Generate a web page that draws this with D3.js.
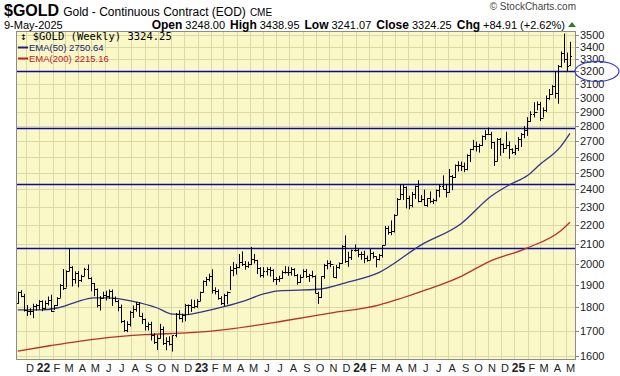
<!DOCTYPE html>
<html>
<head>
<meta charset="utf-8">
<script src="https://cdn.jsdelivr.net/npm/d3@7"></script>
<style>
  body { margin: 0; background: #fff; }
  svg { display: block; }
</style>
</head>
<body>
<svg id="chart"></svg>
<script>
// weekly bars, Friday closes, 12-Nov-2021 .. 9-May-2025
const firstWeek = "2021-11-12";
const lastWeek = "2025-05-09";

const opens = [
  // 2021
  1818, 1868, 1850, 1788, 1784, 1784, 1805, 1811,
  // 2022
  1829, 1797, 1818, 1833, 1786, 1808, 1842, 1900, 1889, 1966, 1985, 1929, 1958,
  1923, 1945, 1974, 1934, 1911, 1882, 1808, 1842, 1857, 1850, 1871, 1840, 1830,
  1801, 1742, 1703, 1727, 1781, 1791, 1816, 1762, 1749, 1721, 1728, 1683, 1655,
  1672, 1709, 1648, 1657, 1645, 1681, 1771, 1754, 1768, 1809, 1810, 1800, 1804,
  // 2023
  1826, 1869, 1921, 1928, 1945, 1876, 1874, 1842, 1817, 1856, 1868, 1973, 1983,
  1986, 2011, 2001, 1990, 1999, 2025, 2019, 1981, 1946, 1969, 1977, 1971, 1929,
  1929, 1932, 1964, 1962, 1960, 1976, 1946, 1916, 1940, 1966, 1942, 1946, 1945,
  1866, 1845, 1941, 1994, 2006, 1999, 1938, 1984, 2003, 2089, 2014, 2035, 2069,
  // 2024
  2071, 2052, 2051, 2029, 2018, 2053, 2038, 2024, 2046, 2096, 2186, 2161, 2166,
  2254, 2345, 2374, 2413, 2347, 2310, 2375, 2419, 2335, 2345, 2311, 2349, 2332,
  2339, 2397, 2421, 2400, 2385, 2480, 2471, 2547, 2546, 2538, 2524, 2611, 2646,
  2668, 2667, 2676, 2736, 2749, 2749, 2694, 2571, 2716, 2681, 2657, 2676, 2645,
  // 2025
  2632, 2654, 2715, 2748, 2775, 2835, 2886, 2900, 2953, 2858, 2915, 3001, 3026,
  3086, 3038, 3244, 3346, 3298, 3248
];

const highs = [
  // 2021
  1870, 1877, 1860, 1810, 1796, 1816, 1815, 1832,
  // 2022
  1831, 1830, 1848, 1856, 1810, 1845, 1905, 1976, 1970, 2078, 1990, 1965, 1966,
  1949, 1982, 1998, 1937, 1910, 1885, 1850, 1870, 1874, 1880, 1880, 1848, 1833,
  1812, 1745, 1740, 1785, 1808, 1824, 1823, 1776, 1751, 1735, 1738, 1690, 1682,
  1729, 1718, 1673, 1677, 1681, 1775, 1787, 1772, 1815, 1813, 1835, 1833, 1836,
  // 2023
  1870, 1922, 1939, 1954, 1975, 1890, 1880, 1849, 1860, 1871, 1990, 2010, 2001,
  2050, 2063, 2015, 2012, 2085, 2050, 2021, 1985, 1985, 1985, 1986, 1975, 1938,
  1944, 1969, 1990, 1988, 1985, 1980, 1952, 1949, 1975, 1976, 1953, 1968, 1946,
  1870, 1941, 2001, 2019, 2017, 1990, 1996, 2008, 2095, 2145, 2061, 2072, 2098,
  // 2024
  2079, 2062, 2067, 2042, 2075, 2061, 2038, 2050, 2096, 2195, 2194, 2225, 2258,
  2350, 2431, 2431, 2417, 2363, 2385, 2422, 2454, 2367, 2398, 2349, 2388, 2346,
  2399, 2430, 2483, 2430, 2522, 2485, 2550, 2570, 2568, 2562, 2614, 2650, 2708,
  2696, 2682, 2737, 2772, 2790, 2761, 2695, 2720, 2720, 2684, 2762, 2698, 2652,
  // 2025
  2675, 2726, 2754, 2800, 2862, 2903, 2968, 2974, 2970, 2930, 3017, 3065, 3094,
  3201, 3250, 3360, 3509, 3350, 3438.95
];

const lows = [
  // 2021
  1815, 1845, 1782, 1762, 1766, 1753, 1785, 1790,
  // 2022
  1783, 1790, 1808, 1780, 1788, 1805, 1842, 1878, 1889, 1965, 1894, 1907, 1890,
  1915, 1941, 1928, 1872, 1850, 1799, 1786, 1839, 1830, 1837, 1806, 1822, 1783,
  1732, 1696, 1694, 1718, 1754, 1781, 1760, 1728, 1701, 1701, 1660, 1646, 1622,
  1668, 1642, 1621, 1640, 1616, 1673, 1748, 1735, 1740, 1769, 1780, 1795, 1798,
  // 2023
  1827, 1865, 1896, 1917, 1862, 1858, 1834, 1810, 1806, 1813, 1877, 1942, 1950,
  1980, 1991, 1973, 1982, 1995, 2003, 1952, 1936, 1935, 1945, 1940, 1914, 1901,
  1915, 1930, 1954, 1944, 1945, 1941, 1902, 1910, 1937, 1933, 1915, 1935, 1862,
  1815, 1841, 1930, 1975, 1985, 1936, 1931, 1977, 2001, 2006, 1987, 2020, 2062,
  // 2024
  2034, 2021, 2004, 2012, 2021, 2027, 1984, 2018, 2032, 2096, 2149, 2146, 2160,
  2254, 2340, 2339, 2291, 2286, 2297, 2344, 2325, 2326, 2305, 2300, 2320, 2316,
  2330, 2354, 2399, 2353, 2380, 2395, 2467, 2507, 2510, 2503, 2514, 2565, 2640,
  2632, 2625, 2667, 2708, 2741, 2649, 2541, 2570, 2605, 2622, 2650, 2585, 2616,
  // 2025
  2610, 2635, 2661, 2718, 2734, 2830, 2860, 2910, 2835, 2860, 2897, 2986, 3022,
  2996, 2957, 3230, 3268, 3203, 3241.07
];

const closes = [
  // 2021
  1868, 1852, 1788, 1784, 1784, 1805, 1811, 1829,
  // 2022
  1797, 1818, 1833, 1786, 1808, 1842, 1900, 1889, 1966, 1985, 1929, 1958, 1923,
  1945, 1974, 1934, 1911, 1882, 1808, 1842, 1857, 1850, 1871, 1840, 1830, 1801,
  1742, 1703, 1727, 1781, 1791, 1816, 1762, 1749, 1721, 1728, 1683, 1655, 1672,
  1709, 1648, 1657, 1645, 1681, 1771, 1754, 1768, 1809, 1810, 1800, 1804, 1826,
  // 2023
  1869, 1921, 1928, 1945, 1876, 1874, 1842, 1817, 1856, 1868, 1973, 1983, 1986,
  2011, 2001, 1990, 1999, 2025, 2019, 1981, 1946, 1969, 1977, 1971, 1929, 1929,
  1932, 1964, 1962, 1960, 1976, 1946, 1916, 1940, 1966, 1942, 1946, 1945, 1866,
  1845, 1941, 1994, 2006, 1999, 1938, 1984, 2003, 2089, 2014, 2035, 2069, 2071,
  // 2024
  2052, 2051, 2029, 2018, 2053, 2038, 2024, 2046, 2096, 2186, 2161, 2166, 2254,
  2345, 2374, 2413, 2347, 2310, 2375, 2419, 2335, 2345, 2311, 2349, 2332, 2339,
  2397, 2421, 2400, 2385, 2480, 2471, 2547, 2546, 2538, 2524, 2611, 2646, 2668,
  2667, 2676, 2736, 2749, 2749, 2694, 2571, 2716, 2681, 2657, 2676, 2645, 2632,
  // 2025
  2654, 2715, 2748, 2775, 2835, 2886, 2900, 2953, 2858, 2915, 3001, 3026, 3086,
  3038, 3244, 3346, 3298, 3239, 3324.25
];

// moving averages at a few dates
const ema50Dates = [
  "2021-11-12", "2022-01-07", "2022-02-11", "2022-03-25", "2022-05-06", "2022-06-10",
  "2022-08-05", "2022-09-30", "2022-11-04", "2022-12-09", "2023-01-06", "2023-03-03",
  "2023-04-21", "2023-06-02", "2023-07-07", "2023-10-06", "2023-12-08", "2024-02-23",
  "2024-05-31", "2024-08-30", "2024-11-08", "2024-12-20", "2025-01-31", "2025-02-28",
  "2025-04-18", "2025-05-09"
];
const ema50 = [
  1789, 1789, 1797, 1822, 1842, 1842,
  1826, 1797, 1770, 1768, 1778, 1803,
  1830, 1860, 1874, 1881, 1911, 1959,
  2096, 2206, 2360, 2426, 2482, 2548,
  2665, 2750.64
];

const ema200Dates = [
  "2021-11-12", "2022-01-28", "2022-05-20", "2022-09-02", "2022-12-16", "2023-03-10",
  "2023-07-21", "2023-11-03", "2024-02-23", "2024-04-12", "2024-06-14", "2024-08-30",
  "2024-11-01", "2025-01-31", "2025-04-18", "2025-05-09"
];
const ema200 = [
  1618, 1640, 1668, 1684, 1692, 1706,
  1742, 1775, 1810, 1838, 1880, 1940,
  2010, 2081, 2170, 2215.16
];

const levels = [2080, 2431, 2790, 3200];
const yTicks = d3.range(1600, 3501, 100);
const monthNames = ["J", "F", "M", "A", "M", "J", "J", "A", "S", "O", "N", "D"];

const W = 620, H = 376;
const margin = { top: 31, right: 44, bottom: 16, left: 16 };
const parse = d3.timeParse("%Y-%m-%d");

const svg = d3.select("#chart").attr("width", W).attr("height", H)
  .style("font-family", "'Liberation Sans', Arial, sans-serif");

const weeks = d3.timeFriday.range(parse(firstWeek), d3.timeDay.offset(parse(lastWeek), 1));

const x = d3.scaleTime()
  .domain([parse("2021-11-08"), parse("2025-05-23")])
  .range([margin.left, W - margin.right]);
const y = d3.scaleLog()
  .domain([1583, 3531])
  .range([H - margin.bottom, margin.top]);

const plotL = margin.left, plotR = W - margin.right;
const plotT = margin.top, plotB = H - margin.bottom;
const px = v => Math.round(v) + 0.5;

svg.append("rect")
  .attr("x", plotL).attr("y", plotT)
  .attr("width", plotR - plotL).attr("height", plotB - plotT)
  .attr("fill", "#faf8c6");

const months = d3.timeMonth.range(parse("2021-12-01"), parse("2025-05-10"));

// grid
svg.append("g").selectAll("line")
  .data(months).enter().append("line")
  .attr("x1", d => px(x(d))).attr("x2", d => px(x(d)))
  .attr("y1", plotT).attr("y2", plotB)
  .attr("stroke", "#dcd9a8").attr("stroke-width", 1);

svg.append("g").selectAll("line")
  .data(yTicks).enter().append("line")
  .attr("x1", plotL).attr("x2", plotR)
  .attr("y1", d => px(y(d))).attr("y2", d => px(y(d)))
  .attr("stroke", "#dcd9a8").attr("stroke-width", 1);

// support / resistance lines
svg.append("g").selectAll("line")
  .data(levels).enter().append("line")
  .attr("x1", plotL).attr("x2", plotR)
  .attr("y1", d => px(y(d))).attr("y2", d => px(y(d)))
  .attr("stroke", "#0a0aa8").attr("stroke-width", 1.4);

// moving averages
const line = d3.line().curve(d3.curveMonotoneX)
  .x(d => x(d[0])).y(d => y(d[1]));

svg.append("path")
  .datum(ema200Dates.map((d, i) => [parse(d), ema200[i]]))
  .attr("d", line).attr("fill", "none")
  .attr("stroke", "#b8302c").attr("stroke-width", 1.3);

svg.append("path")
  .datum(ema50Dates.map((d, i) => [parse(d), ema50[i]]))
  .attr("d", line).attr("fill", "none")
  .attr("stroke", "#34348c").attr("stroke-width", 1.3);

// ohlc bars
const bars = svg.append("g").attr("stroke", "#000").attr("stroke-width", 1);
weeks.forEach((d, i) => {
  const bx = px(x(d));
  bars.append("line").attr("x1", bx).attr("x2", bx)
    .attr("y1", y(highs[i])).attr("y2", y(lows[i]));
  bars.append("line").attr("x1", bx - 1.5).attr("x2", bx)
    .attr("y1", px(y(opens[i]))).attr("y2", px(y(opens[i])));
  bars.append("line").attr("x1", bx).attr("x2", bx + 1.5)
    .attr("y1", px(y(closes[i]))).attr("y2", px(y(closes[i])));
});

// frame
svg.append("rect")
  .attr("x", plotL + 0.5).attr("y", plotT + 0.5)
  .attr("width", plotR - plotL - 1).attr("height", plotB - plotT - 1)
  .attr("fill", "none").attr("stroke", "#8c8c8c");

// y axis on the right
const yAxis = svg.append("g");
yAxis.selectAll("line").data(yTicks).enter().append("line")
  .attr("x1", plotR).attr("x2", plotR + 3)
  .attr("y1", d => px(y(d))).attr("y2", d => px(y(d)))
  .attr("stroke", "#888");
yAxis.selectAll("text").data(yTicks).enter().append("text")
  .attr("x", plotR + 4).attr("y", d => y(d) + 4)
  .attr("font-size", "11px").attr("fill", "#222")
  .text(d => d);

// month labels
svg.append("g").selectAll("text")
  .data(months).enter().append("text")
  .attr("x", d => x(d) + 4)
  .attr("y", H - 4)
  .attr("text-anchor", "middle")
  .attr("font-size", d => d.getMonth() === 0 ? "12px" : "11px")
  .attr("font-weight", d => d.getMonth() === 0 ? "bold" : "normal")
  .attr("fill", "#222")
  .text(d => d.getMonth() === 0 ? d3.timeFormat("%y")(d) : monthNames[d.getMonth()]);

// header
const head = svg.append("text").attr("x", 4).attr("y", 16).attr("fill", "#000");
head.append("tspan").attr("font-size", "16px").attr("font-weight", "bold").text("$GOLD");
head.append("tspan").attr("font-size", "12px").attr("dx", 4).text("Gold - Continuous Contract (EOD)");
head.append("tspan").attr("font-size", "10px").attr("dx", 4).text("CME");

svg.append("text").attr("x", 576).attr("y", 10)
  .attr("text-anchor", "end").attr("font-size", "10px").attr("fill", "#444")
  .text("\u00a9 StockCharts.com");

svg.append("text").attr("x", 4).attr("y", 28.5).attr("font-size", "11px").text("9-May-2025");

const quote = svg.append("text").attr("x", 565).attr("y", 28.5)
  .attr("text-anchor", "end").attr("font-size", "11px").attr("fill", "#000");
[["Open", "3248.00"], ["High", "3438.95"], ["Low", "3241.07"], ["Close", "3324.25"], ["Chg", "+84.91 (+2.62%)"]]
  .forEach((p, i) => {
    quote.append("tspan").attr("font-weight", "bold").attr("font-size", "12px")
      .attr("dx", i ? 5 : 0).text(p[0]);
    quote.append("tspan").attr("dx", 3).text(p[1]);
  });
svg.append("path").attr("d", "M568,27 L572,22 L576,27 Z").attr("fill", "#2e7d32");

// legend
const leg = svg.append("g");
leg.append("text").attr("x", 20).attr("y", 39.5)
  .attr("font-family", "'DejaVu Sans Mono', monospace").attr("font-size", "10.5px")
  .text("\u2195 $GOLD (Weekly) 3324.25");
leg.append("line").attr("x1", 18).attr("x2", 28).attr("y1", 47.5).attr("y2", 47.5)
  .attr("stroke", "#20207a").attr("stroke-width", 2);
leg.append("text").attr("x", 29).attr("y", 51).attr("font-size", "9.5px").attr("fill", "#20207a")
  .text("EMA(50) 2750.64");
leg.append("line").attr("x1", 18).attr("x2", 28).attr("y1", 58.5).attr("y2", 58.5)
  .attr("stroke", "#c0202a").attr("stroke-width", 2);
leg.append("text").attr("x", 29).attr("y", 62).attr("font-size", "9.5px").attr("fill", "#c0202a")
  .text("EMA(200) 2215.16");

// highlight around 3200
svg.append("ellipse")
  .attr("cx", 597).attr("cy", y(3200)).attr("rx", 22).attr("ry", 10)
  .attr("fill", "none").attr("stroke", "#3040c0").attr("stroke-width", 1.2);
</script>
</body>
</html>
